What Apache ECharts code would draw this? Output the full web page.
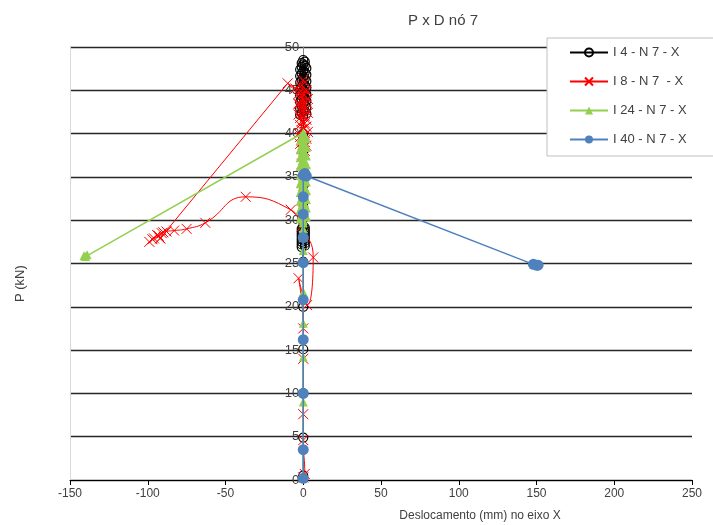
<!DOCTYPE html>
<html>
<head>
<meta charset="utf-8">
<script src="https://cdn.jsdelivr.net/npm/echarts@6/dist/echarts.min.js"></script>
<style>
  html, body { margin: 0; padding: 0; background: #fff; }
  #chart { width: 713px; height: 525px; }
</style>
</head>
<body>
<div id="chart"></div>
<script>
// Load P (kN) versus displacement (mm) along X, node 7
const seriesNames = ['I 4 - N 7 - X', 'I 8 - N 7  - X', 'I 24 - N 7 - X', 'I 40 - N 7 - X'];
const xTicks = { min: -150, max: 250, interval: 50 };
const yTicks = { min: 0, max: 50, interval: 5 };

// [displacement, load]
const i4Data = [
  [0, 0.5], [0, 4.9], [0, 10.0], [0, 15.1], [0, 20.0], [0, 25.2],
  [-1, 26.9], [1, 27.05], [-1, 27.2], [1, 27.35], [-1, 27.5], [1, 27.65], [-1, 27.8], [1, 27.95],
  [-1, 28.1], [1, 28.25], [-1, 28.4], [1, 28.55], [-1, 28.7], [1, 28.85], [-1, 29.0], [1, 29.15], [0, 29.3],
  [0, 30.2], [0, 32.0], [0, 34.0], [0, 36.0], [0, 38.0], [0, 40.0],
  [0, 42.0], [-2, 42.15], [2, 42.3], [-1, 42.45], [1, 42.6], [0, 42.75], [-2, 42.9], [2, 43.05],
  [-1, 43.2], [1, 43.35], [0, 43.5], [-2, 43.65], [2, 43.8], [-1, 43.95], [1, 44.1], [0, 44.25],
  [-2, 44.4], [2, 44.55], [-1, 44.7], [1, 44.85], [0, 45.0], [-2, 45.15], [2, 45.3], [-1, 45.45],
  [1, 45.6], [0, 45.75], [-2, 45.9], [2, 46.05], [-1, 46.2], [1, 46.35], [0, 46.5], [-2, 46.65],
  [2, 46.8], [-1, 46.95], [1, 47.1], [0, 47.25], [-2, 47.4], [2, 47.55], [-1, 47.7], [1, 47.85],
  [0, 48.0], [-1, 48.15], [1, 48.3], [0, 48.5]
];

// first part of the I 8 path, drawn as a smoothed curve
const i8Lower = [
  [0, 0.3], [1, 0.7], [0, 4.6], [0, 7.6], [0, 14.0], [0, 17.5], [-3, 23.3], [2.5, 20.2], [6.4, 25.7],
  [-1, 29.3], [-8, 31.2], [-37, 32.7], [-63, 29.7], [-75, 29.0], [-83, 28.8], [-88, 28.7],
  [-91, 28.5], [-93, 28.2], [-96, 27.9], [-99, 27.5], [-97, 27.8], [-94, 28.3], [-90, 28.6], [-92, 27.9]
];
// remainder of the I 8 path, from the last point above
const i8Upper = [
  [-92, 27.9], [-10, 45.8], [-5, 45.2], [-2, 45.0], [2, 44.8], [-3, 44.6], [1, 44.4], [-2, 44.2],
  [3, 44.0], [-1, 43.8], [2, 43.6], [-3, 43.4], [1, 43.2], [-2, 43.0], [2, 42.8], [-1, 42.6],
  [3, 42.4], [-3, 42.2], [1, 42.0], [-2, 41.8], [2, 41.6], [-1, 41.4], [1, 41.2], [-2, 41.0],
  [2, 40.8], [0, 40.6], [-1, 40.4], [3, 40.2], [-3, 40.0], [1, 39.8], [-2, 39.6], [2, 39.4],
  [-1, 39.2], [1, 39.0], [-2, 38.8], [2, 38.6], [0, 38.4], [-1, 38.2], [1, 38.0], [0, 37.0],
  [1, 35.5], [0, 34.0], [1, 32.5], [0, 31.0], [1, 33.5], [-1, 36.5], [0, 39.0], [-3, 43.5],
  [2, 45.0], [-1, 45.6], [0, 46.2], [1, 45.9], [-2, 45.4]
];

const i24Data = [
  [0, 0.2], [0, 9.0], [0, 14.2], [0, 18.1], [0, 21.7], [0, 26.5], [0, 28.0], [0, 29.0], [0, 29.7],
  [0, 30.0], [-2, 30.2], [2, 30.4], [-1, 30.6], [1, 30.8], [0, 31.0], [-2, 31.2], [2, 31.4],
  [-1, 31.6], [1, 31.8], [0, 32.0], [-2, 32.2], [2, 32.4], [-1, 32.6], [1, 32.8], [0, 33.0],
  [-2, 33.2], [2, 33.4], [-1, 33.6], [1, 33.8], [0, 34.0], [-2, 34.2], [2, 34.4], [-1, 34.6],
  [1, 34.8], [0, 35.0], [-2, 35.2], [2, 35.4], [-1, 35.6], [1, 35.8], [0, 36.0], [-2, 36.2],
  [2, 36.4], [-1, 36.6], [1, 36.8], [0, 37.0], [-2, 37.2], [2, 37.4], [-1, 37.6], [1, 37.8],
  [0, 38.0], [-2, 38.2], [2, 38.4], [-1, 38.6], [1, 38.8], [0, 39.0], [-2, 39.2], [2, 39.4],
  [-1, 39.6], [1, 39.8], [0, 40.1], [-140, 25.8], [-139, 26.0], [-141, 25.9]
];

const i40Data = [
  [0, 0.2], [0, 3.5], [0, 10.0], [0, 16.2], [0, 20.8], [0, 25.1], [0, 28.0], [0, 30.7],
  [0, 32.7], [0, 35.2], [1, 35.4], [2, 35.1], [148, 24.9], [150, 24.8], [151, 24.8]
];

const FONT = '"Liberation Sans", Arial, sans-serif';
const TEXT = '#404040';
const crossPath = 'path://M0,0L10,10M10,0L0,10';

const GRID = { left: 70, right: 21, top: 47, bottom: 45 };
const CHART_W = 713;
// place the value axis at displacement 0
const gridW = CHART_W - GRID.left - GRID.right;
const yAxisOffset = -gridW * (0 - xTicks.min) / (xTicks.max - xTicks.min);

const redStyle = {
  symbol: crossPath, symbolSize: 10, showAllSymbol: true,
  itemStyle: { color: '#ff0000', borderColor: '#ff0000', borderWidth: 1 },
  lineStyle: { color: '#ff0000', width: 1 },
  z: 3
};

const chart = echarts.init(document.getElementById('chart'), null, { renderer: 'canvas' });

chart.setOption({
  animation: false,
  backgroundColor: '#fff',
  title: {
    text: 'P x D nó 7',
    left: 438, textAlign: 'center', top: 8,
    textStyle: { fontFamily: FONT, fontSize: 15, fontWeight: 'normal', color: TEXT }
  },
  grid: GRID,
  legend: {
    orient: 'vertical',
    left: 547, top: 38,
    padding: [8, 40, 10, 22],
    itemWidth: 38, itemHeight: 10, itemGap: 16,
    backgroundColor: '#fff',
    borderColor: '#bfbfbf', borderWidth: 1,
    textStyle: { fontFamily: FONT, fontSize: 13, color: TEXT },
    data: seriesNames
  },
  xAxis: {
    type: 'value',
    min: xTicks.min, max: xTicks.max, interval: xTicks.interval,
    axisLine: { show: true, onZero: false, lineStyle: { color: '#000', width: 1 } },
    axisTick: { show: true, length: 5, lineStyle: { color: '#000' } },
    axisLabel: { fontFamily: FONT, fontSize: 12, color: TEXT, margin: 8 },
    splitLine: { show: false }
  },
  yAxis: {
    type: 'value',
    min: yTicks.min, max: yTicks.max, interval: yTicks.interval,
    offset: yAxisOffset,
    axisLine: { show: true, onZero: false, lineStyle: { color: '#868686', width: 1 } },
    axisTick: { show: false },
    axisLabel: { fontFamily: FONT, fontSize: 13, color: TEXT, margin: 4 },
    splitLine: { show: true, lineStyle: { color: '#262626', width: 1.3 } }
  },
  graphic: [{
    type: 'text',
    x: 14, y: 302, rotation: Math.PI / 2,
    style: { text: 'P (kN)', fontFamily: FONT, fontSize: 13, fill: TEXT }
  }, {
    type: 'text',
    x: 480, y: 510,
    style: { text: 'Deslocamento (mm) no eixo X', fontFamily: FONT, fontSize: 12, fill: TEXT, align: 'center' }
  }],
  series: [{
    name: seriesNames[0], type: 'line', data: i4Data,
    symbol: 'circle', symbolSize: 9, showAllSymbol: true,
    itemStyle: { color: 'rgba(0,0,0,0)', borderColor: '#000', borderWidth: 1.2 },
    lineStyle: { color: '#000', width: 1 },
    markLine: {
      silent: true, symbol: 'none', label: { show: false },
      lineStyle: { color: '#d9d9d9', width: 1, type: 'solid' },
      data: [{ xAxis: xTicks.min }]
    },
    z: 2
  }, Object.assign({ name: seriesNames[1], type: 'line', data: i8Lower, smooth: 0.5 }, redStyle),
     Object.assign({ name: seriesNames[1], type: 'line', data: i8Upper, smooth: false }, redStyle),
  {
    name: seriesNames[2], type: 'line', data: i24Data,
    symbol: 'triangle', symbolSize: 9, showAllSymbol: true,
    itemStyle: { color: '#92d050' },
    lineStyle: { color: '#92d050', width: 1.5 },
    z: 4
  }, {
    name: seriesNames[3], type: 'line', data: i40Data,
    symbol: 'circle', symbolSize: 11, showAllSymbol: true,
    itemStyle: { color: '#4f81bd' },
    lineStyle: { color: '#4f81bd', width: 1.5 },
    z: 5
  }]
});
</script>
</body>
</html>
